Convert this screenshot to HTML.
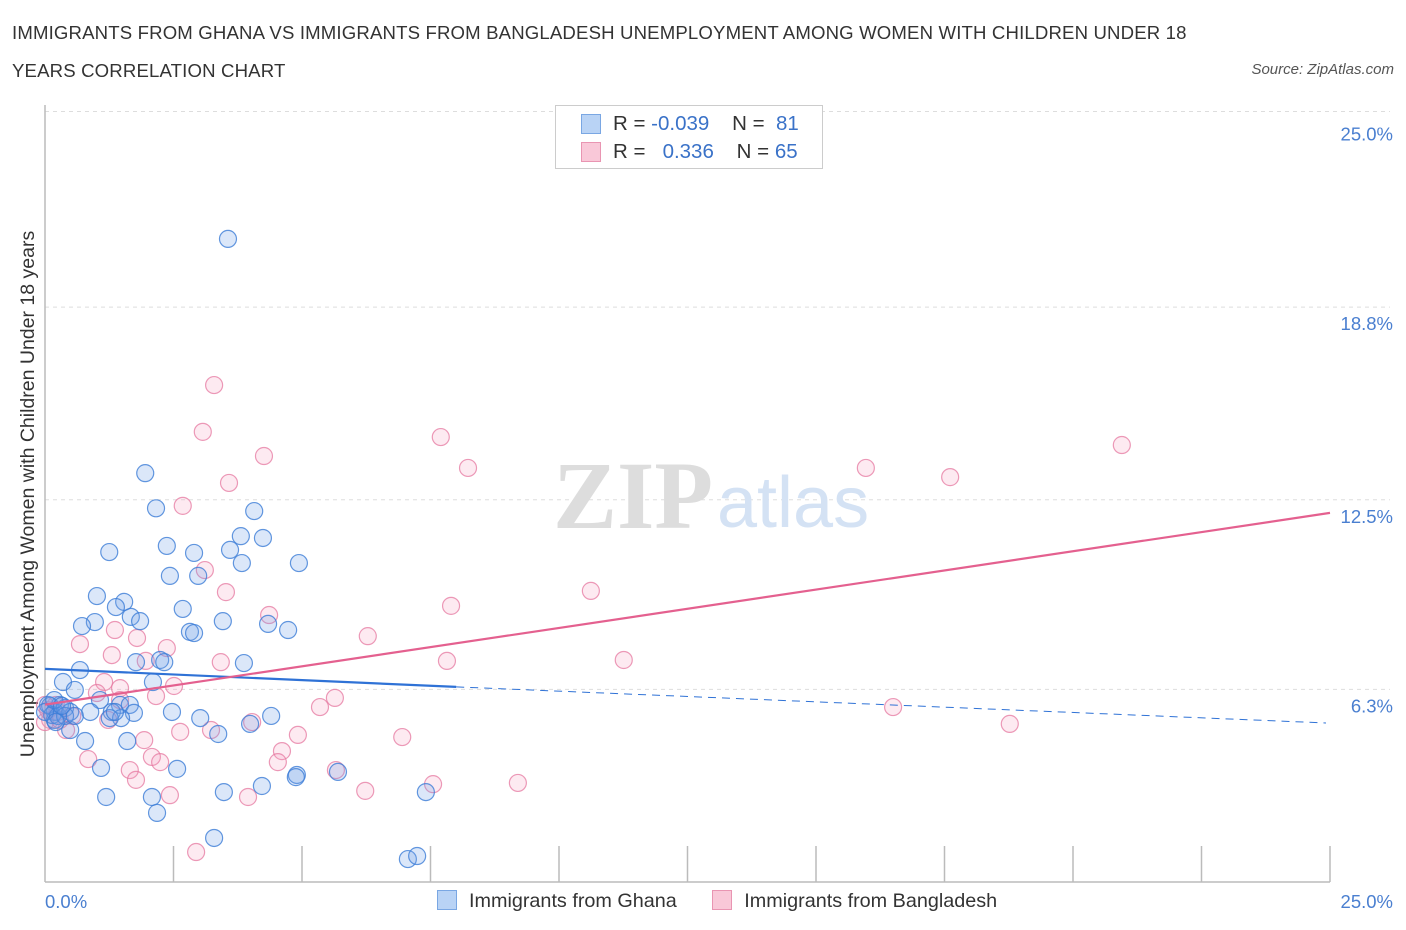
<!DOCTYPE html>
<html><head><meta charset="utf-8">
<style>
body{margin:0;background:#fff;font-family:"Liberation Sans",sans-serif;}
#wrap{position:relative;width:1406px;height:930px;overflow:hidden;}
.t{position:absolute;white-space:nowrap;}
</style></head>
<body>
<div id="wrap">
<div class="t" style="left:12px;top:14px;font-size:18.6px;color:#333;line-height:38px;letter-spacing:0.15px;">IMMIGRANTS FROM GHANA VS IMMIGRANTS FROM BANGLADESH UNEMPLOYMENT AMONG WOMEN WITH CHILDREN UNDER 18<br>YEARS CORRELATION CHART</div>
<div class="t" style="right:12px;top:61px;font-size:15px;color:#555;font-style:italic;">Source: ZipAtlas.com</div>
<svg id="svg" width="1406" height="930" style="position:absolute;left:0;top:0;"></svg>
</div>
<script>
const yTicks=[25.0,18.8,12.5,6.3];
const yTickLabels=["25.0%","18.8%","12.5%","6.3%"];
const xLabels=["0.0%","25.0%"];
const ghanaX=[3.56,1.95,2.16,4.07,3.81,4.24,1.25,2.37,2.90,3.60,3.83,4.94,2.43,2.98,1.01,1.54,1.38,2.68,1.67,0.97,0.72,1.85,3.46,4.34,4.73,2.82,2.90,2.24,1.77,3.87,2.32,0.68,2.10,0.35,0.58,1.07,0.29,0.10,0.19,0.88,1.46,1.65,1.30,1.73,2.47,1.48,3.02,4.40,3.99,3.37,0.19,0.49,0.78,1.60,1.09,2.57,4.90,5.70,4.88,4.22,3.48,1.19,2.08,7.41,2.18,3.29,7.06,7.24,0.06,0.14,0.25,0.39,0.0,0.49,0.39,1.26,1.36,0.18,0.33,0.58,0.21];
const ghanaY=[21.03,13.37,12.22,12.13,11.31,11.25,10.79,10.99,10.76,10.86,10.43,10.43,10.01,10.01,9.35,9.16,8.99,8.93,8.67,8.50,8.37,8.53,8.53,8.44,8.24,8.18,8.14,7.26,7.19,7.16,7.19,6.93,6.54,6.54,6.28,5.95,5.79,5.76,5.56,5.56,5.79,5.79,5.56,5.53,5.56,5.36,5.36,5.43,5.17,4.84,5.30,4.97,4.61,4.61,3.73,3.70,3.50,3.60,3.43,3.14,2.94,2.78,2.78,2.94,2.26,1.44,0.75,0.85,5.79,5.46,5.43,5.69,5.56,5.56,5.43,5.36,5.56,5.95,5.76,5.43,5.23];
const bangX=[3.29,3.07,7.70,4.26,8.23,20.95,15.97,17.61,3.58,2.68,3.11,3.52,10.62,7.90,4.36,1.36,1.79,6.28,0.68,2.37,1.30,1.96,3.42,7.82,11.26,1.15,2.51,1.46,1.01,5.64,5.35,16.50,2.16,4.03,3.23,2.63,18.77,4.92,6.95,1.93,4.61,0.84,2.08,2.24,1.65,4.53,1.77,7.55,9.20,5.66,2.43,3.95,6.23,2.94,0.10,0.29,0.41,0.06,0.25,0.53,0.0,1.23,0.21,1.46,0.0];
const bangY=[16.25,14.72,14.55,13.93,13.54,14.29,13.54,13.24,13.05,12.30,10.20,9.48,9.52,9.03,8.73,8.24,7.98,8.04,7.78,7.65,7.42,7.23,7.19,7.23,7.26,6.54,6.41,6.34,6.18,6.02,5.72,5.72,6.08,5.23,4.97,4.91,5.17,4.81,4.74,4.64,4.28,4.02,4.09,3.92,3.66,3.92,3.34,3.20,3.24,3.66,2.84,2.78,2.98,0.98,5.30,5.30,4.97,5.62,5.56,5.43,5.23,5.30,5.79,5.95,5.79];
const ghanaTrend=[6.97,6.38,5.2]; // at x=0, x=8 (end solid), x=25
const bangTrend=[5.8,12.07]; // at x=0, x=25

const X=v=>45+v*51.4, Y=v=>882-v*30.58;
const svg=document.getElementById('svg');
const NS='http://www.w3.org/2000/svg';
function mk(tag,attrs,parent){const e=document.createElementNS(NS,tag);for(const k in attrs)e.setAttribute(k,attrs[k]);(parent||svg).appendChild(e);return e;}

yTicks.forEach((v,i)=>{
  const g=mk('line',{x1:45,x2:1390,y1:Y(v)-(i==0?6:0),y2:Y(v)-(i==0?6:0),stroke:'#ddd','stroke-dasharray':'4,4'});
  
  
  const t=mk('text',{x:1393,y:Y(v)+23,'text-anchor':'end','font-size':18.5,fill:'#4a7fd0','font-family':'Liberation Sans'});
  t.textContent=yTickLabels[i];
  
  
});
let w=mk('text',{x:553,y:528,'font-size':96,fill:'#ddd','font-family':'Liberation Serif','font-weight':'bold'});w.textContent='ZIP';


w=mk('text',{x:717,y:527,'font-size':72,fill:'#d4e2f4','font-family':'Liberation Sans'});w.textContent='atlas';


let a=mk('line',{x1:45,x2:45,y1:105,y2:882,stroke:'#bbb','stroke-width':1.5});


a=mk('line',{x1:45,x2:1330,y1:882,y2:882,stroke:'#bbb','stroke-width':1.5});


for(let i=1;i<=10;i++){const tk=mk('line',{x1:X(i*2.5),x2:X(i*2.5),y1:846,y2:882,stroke:'#bbb','stroke-width':1.5});

}
xLabels.forEach((l,i)=>{const t=mk('text',{x:i?1393:45,y:908,'text-anchor':i?'end':'start','font-size':18.5,fill:'#4a7fd0','font-family':'Liberation Sans'});t.textContent=l;

});
let yt=mk('text',{transform:'translate(34,494) rotate(-90)','text-anchor':'middle','font-size':19.5,fill:'#333','font-family':'Liberation Sans'});yt.textContent='Unemployment Among Women with Children Under 18 years';


bangX.forEach((x,i)=>{const c=mk('circle',{cx:X(x),cy:Y(bangY[i]),r:8.5,fill:'rgba(245,160,190,0.22)',stroke:'rgba(230,120,160,0.75)','stroke-width':1.2});

});
ghanaX.forEach((x,i)=>{const c=mk('circle',{cx:X(x),cy:Y(ghanaY[i]),r:8.5,fill:'rgba(110,160,230,0.25)',stroke:'rgba(60,125,215,0.8)','stroke-width':1.2});

});
let l=mk('line',{x1:X(0),y1:Y(ghanaTrend[0]),x2:X(8),y2:Y(ghanaTrend[1]),stroke:'#2f72d6','stroke-width':2.2});


l=mk('line',{x1:X(8),y1:Y(ghanaTrend[1]),x2:X(25)-4,y2:Y(ghanaTrend[2]),stroke:'#2f72d6','stroke-width':1,'stroke-dasharray':'8,6'});


l=mk('line',{x1:X(0),y1:Y(bangTrend[0]),x2:X(25),y2:Y(bangTrend[1]),stroke:'#e4608f','stroke-width':2.2});


</script>
<div class="t" style="left:555px;top:105px;width:266px;height:62px;border:1px solid #ccc;background:#fff;font-size:20.5px;color:#333;">
  <div style="position:absolute;left:25px;top:8px;width:18px;height:18px;background:#b9d3f5;border:1px solid #7aa7e3;"></div>
  <div style="position:absolute;left:25px;top:36px;width:18px;height:18px;background:#f9c8d8;border:1px solid #e995b2;"></div>
  <div class="t" style="left:57px;top:6px;">R = <span style="color:#3a72c8">-0.039</span>&nbsp;&nbsp;&nbsp; N = &nbsp;<span style="color:#3a72c8">81</span></div>
  <div class="t" style="left:57px;top:34px;">R = &nbsp;&nbsp;<span style="color:#3a72c8">0.336</span>&nbsp;&nbsp;&nbsp; N = <span style="color:#3a72c8">65</span></div>
</div>
<div class="t" style="left:437px;top:890px;font-size:19.8px;color:#333;">
  <span><span style="display:inline-block;width:18px;height:18px;background:#b9d3f5;border:1px solid #7aa7e3;vertical-align:-3px;margin-right:12px;"></span>Immigrants from Ghana</span>
  <span style="margin-left:30px;"><span style="display:inline-block;width:18px;height:18px;background:#f9c8d8;border:1px solid #e995b2;vertical-align:-3px;margin-right:12px;"></span>Immigrants from Bangladesh</span>
</div>
</body></html>
